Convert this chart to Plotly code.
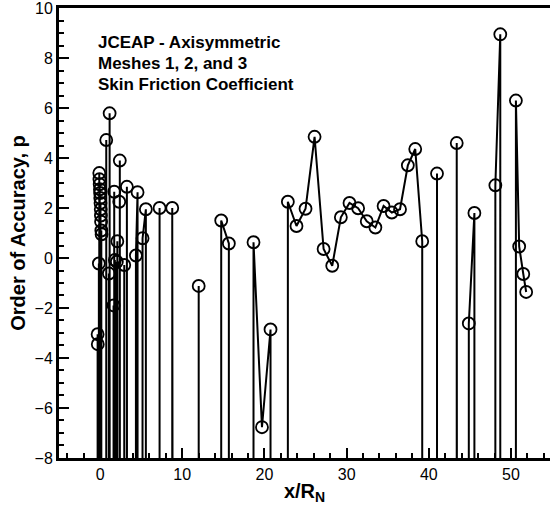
import plotly.graph_objects as go

# x/R_N positions of the data points
x_vals = [-0.30, -0.28, -0.15, -0.10, -0.08, -0.05, -0.02, 0.00, 0.02, 0.05,
          0.08, 0.10, 0.12, 0.15, 0.18, 0.75, 1.07, 1.16, 1.64, 1.72,
          1.80, 2.04, 2.10, 2.33, 2.40, 2.94, 3.26, 4.36, 4.56, 5.17,
          5.57, 7.24, 8.78, 12.0, 14.74, 15.67, 18.67, 19.70, 20.74, 22.85,
          23.90, 25.0, 26.1, 27.2, 28.25, 29.3, 30.35, 31.4, 32.45, 33.5,
          34.5, 35.5, 36.5, 37.45, 38.35, 39.2, 41.0, 43.4, 44.87, 45.55,
          48.1, 48.7, 50.6, 51.0, 51.5, 51.85]
# order of accuracy p
p_vals = [-3.05, -3.45, -0.22, 3.40, 3.15, 2.95, 2.75, 2.60, 2.40, 2.20,
          1.95, 1.70, 1.45, 1.10, 0.95, 4.72, -0.62, 5.79, -1.90, 2.65,
          -0.08, -0.15, 0.67, 2.25, 3.90, -0.28, 2.85, 0.10, 2.63, 0.79,
          1.95, 2.00, 2.00, -1.12, 1.50, 0.58, 0.63, -6.77, -2.86, 2.25,
          1.28, 1.97, 4.85, 0.36, -0.31, 1.63, 2.20, 1.99, 1.47, 1.22,
          2.08, 1.82, 1.95, 3.71, 4.36, 0.67, 3.38, 4.60, -2.62, 1.80,
          2.91, 8.95, 6.30, 0.46, -0.64, -1.36]
# 1 = an off-scale value precedes this point (line drops out of the frame)
new_segment = [1, 1, 1, 1, 1, 1, 1, 1, 1, 1,
               1, 1, 1, 1, 1, 1, 1, 1, 1, 1,
               1, 1, 1, 1, 1, 1, 1, 1, 0, 1,
               0, 1, 1, 1, 1, 0, 1, 0, 0, 1,
               0, 0, 0, 0, 0, 0, 0, 0, 0, 0,
               0, 0, 0, 0, 0, 0, 1, 1, 1, 0,
               1, 0, 1, 0, 0, 0]
OFF_SCALE = -1000.0

x_ticks = [0, 10, 20, 30, 40, 50]
y_ticks = [-8, -6, -4, -2, 0, 2, 4, 6, 8, 10]

# build the connecting line including off-scale values
lx, ly = [], []
prev_x = None
for x, p, b in zip(x_vals, p_vals, new_segment):
    if b:
        if prev_x is not None:
            lx.append(prev_x); ly.append(OFF_SCALE)
        lx.append(x); ly.append(OFF_SCALE)
    lx.append(x); ly.append(p)
    prev_x = x

FONT = "Liberation Sans, Arial, Helvetica, sans-serif"

fig = go.Figure()
fig.add_trace(go.Scatter(x=lx, y=ly, mode="lines",
                         line=dict(color="black", width=2),
                         hoverinfo="skip", showlegend=False))
fig.add_trace(go.Scatter(x=x_vals, y=p_vals, mode="markers",
                         marker=dict(symbol="circle-open", size=12, color="black",
                                     line=dict(color="black", width=1.8)),
                         showlegend=False))

fig.update_layout(
    width=550, height=508,
    margin=dict(l=59, r=0, t=8, b=50),
    paper_bgcolor="white", plot_bgcolor="white",
    font=dict(family=FONT, size=16, color="black"),
    showlegend=False,
)
fig.update_xaxes(
    range=[-5, 54.75], tickvals=x_ticks, ticks="inside", ticklen=10, tickwidth=2,
    tickcolor="black", showgrid=False, zeroline=False,
    showline=True, linewidth=3, linecolor="black", mirror=True,
    minor=dict(ticks="inside", ticklen=5, tickwidth=1.5, tickcolor="black", dtick=2, tick0=0, showgrid=False),
    tickfont=dict(family=FONT, size=16, color="black"),
    title=dict(text="<b>x/R<sub>N</sub></b>", font=dict(family=FONT, size=20, color="black"), standoff=2),
)
fig.update_yaxes(
    range=[-8.001, 10.001], tickvals=y_ticks, ticks="inside", ticklen=10, tickwidth=2,
    tickcolor="black", showgrid=False, zeroline=False,
    showline=True, linewidth=3, linecolor="black", mirror=False,
    minor=dict(ticks="inside", ticklen=5, tickwidth=1.5, tickcolor="black", dtick=0.5, tick0=0, showgrid=False),
    tickfont=dict(family=FONT, size=16, color="black"),
    ticklabeloverflow="allow",
    title=dict(text="<b>Order of Accuracy, p</b>", font=dict(family=FONT, size=20, color="black"), standoff=4),
)

labels = ["JCEAP - Axisymmetric", "Meshes 1, 2, and 3", "Skin Friction Coefficient"]
label_y = [0.923, 0.877, 0.830]
for t, yy in zip(labels, label_y):
    fig.add_annotation(text="<b>" + t + "</b>", xref="paper", yref="paper",
                       x=0.0754, y=yy, xanchor="left", yanchor="middle",
                       showarrow=False, font=dict(family=FONT, size=17, color="black"))

fig.write_html("out.html")
